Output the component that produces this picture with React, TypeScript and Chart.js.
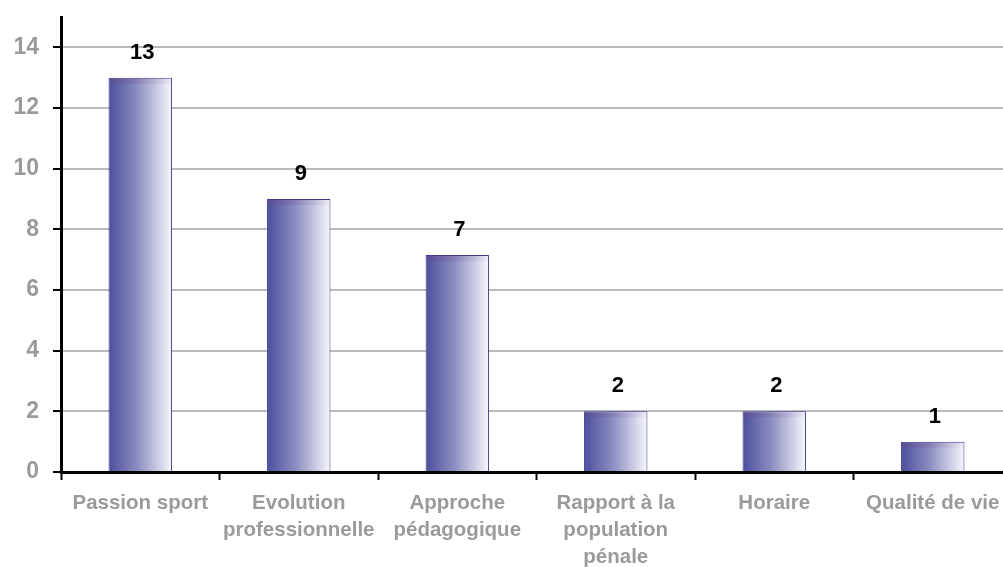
import React, { useEffect, useRef } from "react";
import { Chart, registerables } from "chart.js";

Chart.register(...registerables);

const categories: (string | string[])[] = [
  "Passion sport",
  ["Evolution", "professionnelle"],
  ["Approche", "pédagogique"],
  ["Rapport à la", "population", "pénale"],
  "Horaire",
  "Qualité de vie",
];
const values: number[] = [13, 9, 7.15, 2, 2, 1];
const yTicks: number[] = [0, 2, 4, 6, 8, 10, 12, 14];

const FONT = "'Liberation Sans', Arial, sans-serif";
const BAR_PCT = 0.4;

const barDecor = {
  id: "barDecor",
  afterDatasetsDraw(chart: any) {
    const ctx = chart.ctx;
    const meta = chart.getDatasetMeta(0);
    ctx.save();
    meta.data.forEach((el: any, i: number) => {
      const p = el.getProps(["x", "y", "base", "width"], true);
      const left = p.x - p.width / 2;
      if (!isFinite(left) || !isFinite(p.width)) return;
      const g = ctx.createLinearGradient(left, 0, left + p.width, 0);
      g.addColorStop(0, "rgba(95,70,135,0.45)");
      g.addColorStop(1, "rgba(150,120,180,0.05)");
      ctx.fillStyle = g;
      ctx.fillRect(left + 1, p.y + 1, p.width - 2, 5);
      ctx.fillStyle = "#000";
      ctx.font = `bold 22px ${FONT}`;
      ctx.textAlign = "center";
      ctx.textBaseline = "alphabetic";
      ctx.fillText(String(Math.round(values[i])), p.x + 2, p.y - 19);
    });
    ctx.restore();
  },
};

export default function App() {
  const ref = useRef<HTMLCanvasElement>(null);
  useEffect(() => {
    if (!ref.current) return;
    const chart = new Chart(ref.current, {
      type: "bar",
      data: {
        labels: categories as any,
        datasets: [
          {
            data: values,
            barPercentage: BAR_PCT,
            categoryPercentage: 1,
            borderColor: "#3c3c8c",
            borderWidth: 1,
            backgroundColor: (c: any) => {
              const ch = c.chart;
              const xs = ch.scales && ch.scales.x;
              if (!xs || c.dataIndex === undefined) return "#9a9cc8";
              const cx = xs.getPixelForValue(c.dataIndex);
              const w = (xs.width / categories.length) * BAR_PCT;
              if (!isFinite(cx) || !isFinite(w) || w <= 0) return "#9a9cc8";
              const g = ch.ctx.createLinearGradient(cx - w / 2, 0, cx + w / 2, 0);
              g.addColorStop(0, "#4c4f9c");
              g.addColorStop(0.45, "#8b8dc0");
              g.addColorStop(1, "#f7f7fc");
              return g;
            },
          },
        ],
      },
      options: {
        responsive: false,
        animation: false,
        layout: { padding: { top: 17, left: 0, right: 0, bottom: 0 } },
        plugins: { legend: { display: false }, tooltip: { enabled: false } },
        scales: {
          x: {
            offset: true,
            grid: {
              offset: true,
              drawOnChartArea: false,
              drawTicks: true,
              tickLength: 8,
              tickColor: "#000",
              tickWidth: 2,
            },
            border: { color: "#000", width: 3 },
            ticks: {
              autoSkip: false,
              maxRotation: 0,
              minRotation: 0,
              padding: 10,
              color: "#9a9a9a",
              font: { family: FONT, size: 20.5, weight: "bold", lineHeight: 1.32 },
            },
            afterFit: (s: any) => {
              s.height = 95;
              s.paddingLeft = 0;
              s.paddingRight = 0;
            },
          },
          y: {
            min: 0,
            max: 15,
            afterBuildTicks: (s: any) => {
              s.ticks = yTicks.map((v) => ({ value: v }));
            },
            grid: {
              color: "#bababa",
              lineWidth: 2,
              tickLength: 8,
              tickColor: "#000",
              tickWidth: 2,
            },
            border: { color: "#000", width: 3 },
            ticks: {
              padding: 14,
              color: "#9a9a9a",
              font: { family: FONT, size: 23, weight: "bold" },
            },
            afterFit: (s: any) => {
              s.width = 61;
              s.paddingTop = 0;
              s.paddingBottom = 0;
            },
          },
        },
      },
      plugins: [barDecor],
    });
    return () => chart.destroy();
  }, []);
  return (
    <div
      style={{
        position: "fixed",
        left: 0,
        top: 0,
        width: 1003,
        height: 567,
        overflow: "hidden",
        background: "#fff",
      }}
    >
      <canvas ref={ref} width={1012} height={567} style={{ display: "block" }} />
    </div>
  );
}
